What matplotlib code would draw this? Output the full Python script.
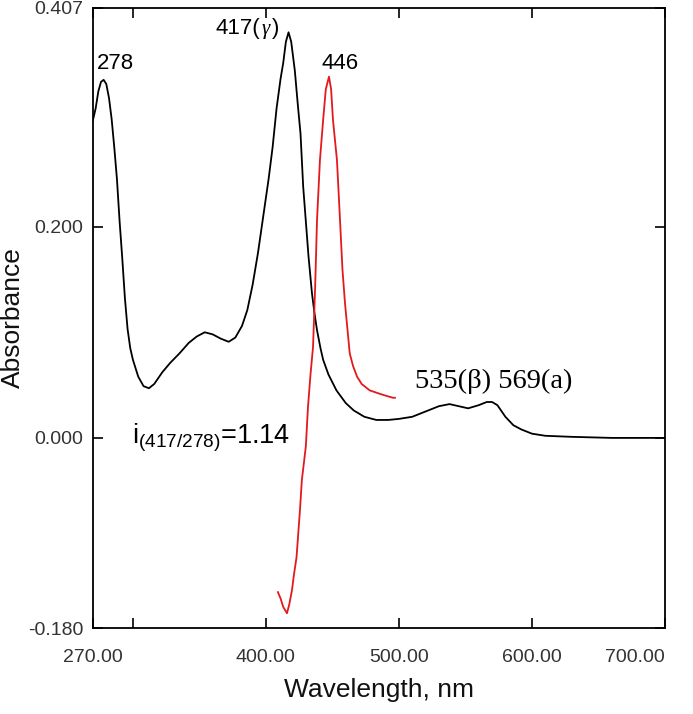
import matplotlib
matplotlib.use("Agg")
import matplotlib.pyplot as plt

plt.rcParams["font.family"] = ["Liberation Sans", "DejaVu Sans"]
plt.rcParams["mathtext.fontset"] = "custom"
plt.rcParams["mathtext.rm"] = "Liberation Sans"
plt.rcParams["mathtext.it"] = "Liberation Sans"
plt.rcParams["mathtext.default"] = "regular"

# black spectrum (oxidised)
wl_black = [270, 272, 274, 276, 278, 280, 282, 284, 286, 288, 290, 292, 294, 296,
            298, 300, 304, 308, 312, 316, 322, 328, 335, 342, 348, 354, 360, 366,
            372, 377, 382, 386, 390, 394, 398, 402, 405, 408, 411, 413, 415, 417,
            419, 421.7, 424, 426, 428, 430, 432, 434.6, 436.5, 438.4, 441, 443,
            447, 453, 460, 466, 474, 483, 492, 500, 510, 520, 530, 538, 545, 552,
            560, 566, 570, 574, 580, 586, 592, 600, 610, 630, 660, 700]
abs_black = [0.301, 0.312, 0.328, 0.337, 0.339, 0.335, 0.322, 0.302, 0.275, 0.245,
             0.205, 0.170, 0.132, 0.103, 0.085, 0.074, 0.058, 0.049, 0.047, 0.051,
             0.062, 0.071, 0.080, 0.090, 0.096, 0.100, 0.098, 0.094, 0.091, 0.095,
             0.106, 0.121, 0.145, 0.175, 0.210, 0.245, 0.275, 0.312, 0.340, 0.355,
             0.375, 0.384, 0.375, 0.348, 0.315, 0.288, 0.238, 0.205, 0.172, 0.137,
             0.118, 0.102, 0.085, 0.074, 0.060, 0.045, 0.033, 0.026, 0.020, 0.017,
             0.017, 0.018, 0.020, 0.025, 0.030, 0.032, 0.030, 0.028, 0.031, 0.034,
             0.034, 0.031, 0.020, 0.012, 0.008, 0.004, 0.002, 0.001, 0.000, 0.000]

# red difference spectrum
wl_red = [409, 411, 413, 415.8, 417.5, 419.6, 421, 423, 425.6, 427, 430, 431.6,
          433.5, 435.4, 437, 438.4, 440.6, 443, 445, 447.4, 449, 450.4, 453.4,
          455.7, 457.5, 459.4, 463, 465.5, 468.5, 472, 478, 485, 490, 495.5, 497]
abs_red = [-0.146, -0.152, -0.160, -0.166, -0.158, -0.144, -0.130, -0.113, -0.068,
           -0.040, -0.008, 0.029, 0.060, 0.086, 0.143, 0.206, 0.263, 0.301, 0.330,
           0.342, 0.330, 0.301, 0.263, 0.206, 0.160, 0.128, 0.080, 0.068, 0.058,
           0.051, 0.045, 0.042, 0.040, 0.038, 0.038]

x_ticks = [270, 300, 400, 500, 600, 700]
x_labels = ["270.00", "", "400.00", "500.00", "600.00", "700.00"]
y_ticks = [-0.180, 0.000, 0.200, 0.407]

fig = plt.figure(figsize=(6.93, 7.14), dpi=100)
ax = fig.add_axes([0.1342, 0.1204, 0.8254, 0.8684])

ax.plot(wl_black, abs_black, color="black", lw=1.3)
ax.plot(wl_red, abs_red, color="#e3191c", lw=1.3)

ax.set_xlim(270, 700)
ax.set_ylim(-0.180, 0.407)
ax.set_xticks(x_ticks)
ax.set_xticklabels(x_labels)
ax.set_yticks(y_ticks)
ax.set_yticklabels(["%.3f" % v for v in y_ticks])
ax.tick_params(direction="in", length=7, width=1.2, top=True, right=True,
               labelsize=14, labelcolor="#333333")
ax.tick_params(axis="x", pad=15)
ax.tick_params(axis="y", pad=7)
for s in ax.spines.values():
    s.set_linewidth(1.3)
# keep the right-most label inside the canvas, as in the original
ax.get_xticklabels()[-1].set_horizontalalignment("right")
ax.get_xticklabels()[-1].set_x(700)

ax.set_xlabel("Wavelength, nm", fontsize=19, labelpad=9, color="#111111")
ax.set_ylabel("Absorbance", fontsize=19, labelpad=2, color="#111111")

ax.text(273, 0.349, "278", fontsize=16, ha="left", va="baseline")
ax.text(396, 0.382, "417(", fontsize=16, ha="right", va="baseline")
ax.text(396.5, 0.382, "γ", fontsize=15, family="Liberation Serif", style="italic",
        ha="left", va="baseline")
ax.text(404.5, 0.382, ")", fontsize=16, ha="left", va="baseline")
ax.text(456, 0.349, "446", fontsize=16, ha="center", va="baseline")
ax.text(512, 0.047, "535(β) 569(a)", fontsize=20.5, family="Liberation Serif",
        ha="left", va="baseline")
ax.text(299, -0.005, r"i$_{(417/278)}$=1.14", fontsize=19.5, ha="left",
        va="baseline")

fig.savefig("out.png", dpi=100)
